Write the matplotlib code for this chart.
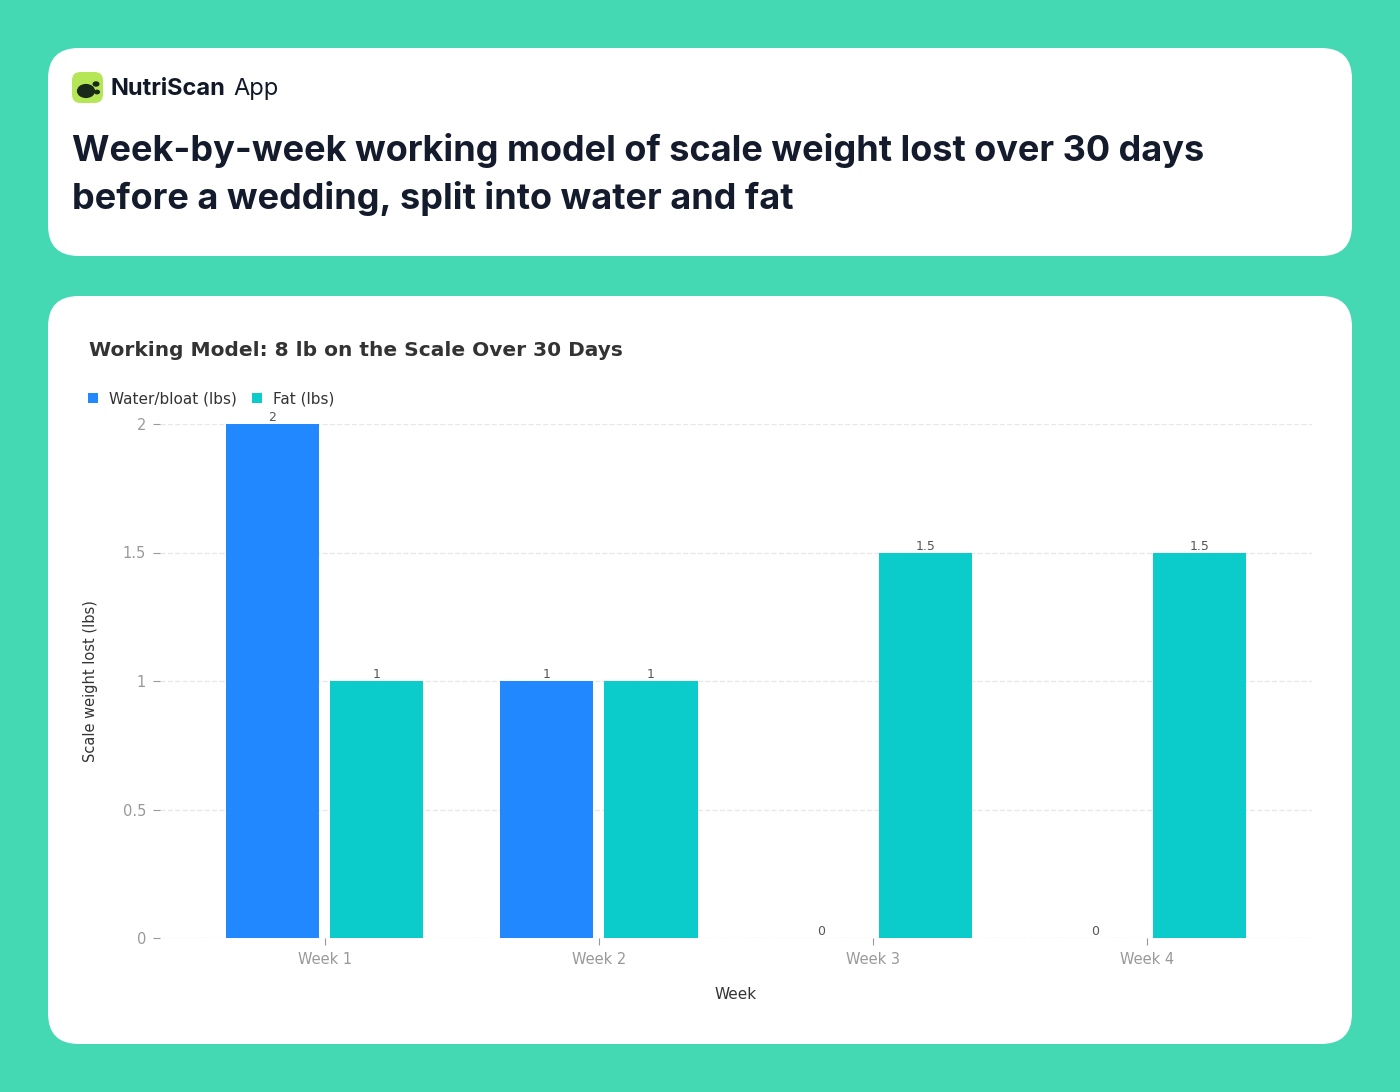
import matplotlib
matplotlib.use("Agg")
import matplotlib.pyplot as plt
from matplotlib.patches import FancyBboxPatch, Circle
import numpy as np

weeks = ["Week 1", "Week 2", "Week 3", "Week 4"]
water = [2, 1, 0, 0]
fat = [1, 1, 1.5, 1.5]
yticks = [0, 0.5, 1, 1.5, 2]
ylabels = ["0", "0.5", "1", "1.5", "2"]

W, H = 1400, 1092
fig = plt.figure(figsize=(W/100, H/100), dpi=100)
fig.patch.set_facecolor("#44D9B2")

def px(x, y):
    return x/W, 1 - y/H

def card(x0, y0, x1, y1):
    p = FancyBboxPatch((x0/W, 1-y1/H), (x1-x0)/W, (y1-y0)/H,
                       boxstyle="round,pad=0,rounding_size=0.022",
                       transform=fig.transFigure, fc="white", ec="none",
                       mutation_aspect=W/H, zorder=-10)
    fig.patches.append(p)

card(48, 48, 1352, 256)
card(48, 296, 1352, 1044)

# logo
lg = FancyBboxPatch((72/W, 1-103/H), 31/W, 31/H, boxstyle="round,pad=0,rounding_size=0.006",
                    transform=fig.transFigure, fc="#B5E655", ec="none", mutation_aspect=W/H)
fig.patches.append(lg)
fig.patches.append(Circle(px(86, 91), 0.0065, transform=fig.transFigure, fc="#1a2a1a", ec="none"))
fig.patches.append(Circle(px(96, 84), 0.0025, transform=fig.transFigure, fc="#1a2a1a", ec="none"))
fig.patches.append(Circle(px(97, 92), 0.0022, transform=fig.transFigure, fc="#1a2a1a", ec="none"))
fig.text(*px(110, 89), "NutriScan", fontsize=17, fontweight="bold", color="#111827", va="center", family="Inter")
fig.text(*px(233, 89), "App", fontsize=17, color="#111827", va="center", family="Inter")
fig.text(*px(72, 150), "Week-by-week working model of scale weight lost over 30 days", fontsize=26,
         fontweight="bold", color="#141B2D", va="center", family="Inter")
fig.text(*px(72, 198), "before a wedding, split into water and fat", fontsize=26,
         fontweight="bold", color="#141B2D", va="center", family="Inter")

fig.text(*px(89, 350), "Working Model: 8 lb on the Scale Over 30 Days", fontsize=14.5,
         fontweight="bold", color="#333333", va="center")

blue, teal = "#2288FF", "#0CCBCB"
fig.patches.append(plt.Rectangle(px(88, 403), 10/W, 10/H, transform=fig.transFigure, fc=blue))
fig.text(*px(109, 399), "Water/bloat (lbs)", fontsize=11, color="#333333", va="center")
fig.patches.append(plt.Rectangle(px(252, 403), 10/W, 10/H, transform=fig.transFigure, fc=teal))
fig.text(*px(273, 399), "Fat (lbs)", fontsize=11, color="#333333", va="center")

ax = fig.add_axes([160/W, 1-938/H, (1312-160)/W, (938-424)/H])
ax.set_zorder(5)
ax.set_facecolor("white")
x = np.arange(len(weeks))
bw, off = 0.34, 0.19
b1 = ax.bar(x-off, water, bw, color=blue)
b2 = ax.bar(x+off, fat, bw, color=teal)
for bars, vals in ((b1, water), (b2, fat)):
    for b, v in zip(bars, vals):
        ax.text(b.get_x()+b.get_width()/2, v, f"{v:g}", ha="center", va="bottom", fontsize=9, color="#555555")
ax.set_xlim(-0.6, 3.6)
ax.set_ylim(0, 2)
ax.set_yticks(yticks, ylabels)
ax.set_xticks(x, weeks)
for s in ax.spines.values():
    s.set_visible(False)
ax.grid(axis="y", color="#e8e8e8", linestyle="--", linewidth=1)
ax.set_axisbelow(True)
ax.tick_params(colors="#999999", labelsize=10.5, length=5, pad=5)
ax.tick_params(axis="x", pad=5)
ax.set_xlabel("Week", fontsize=11, color="#333333")
ax.set_ylabel("Scale weight lost (lbs)", fontsize=10.5, color="#333333")
ax.yaxis.set_label_coords(-0.054, 0.5)
ax.xaxis.set_label_coords(0.5, -0.095)
fig.savefig("out.png", dpi=100, facecolor=fig.get_facecolor())
